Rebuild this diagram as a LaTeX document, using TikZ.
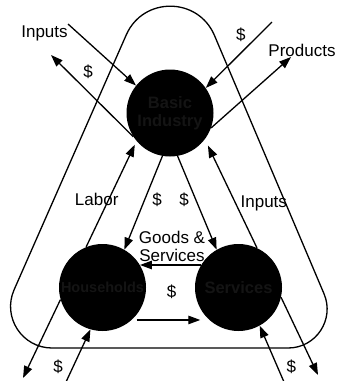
\documentclass[tikz,border=0pt]{standalone}
\usepackage{fontspec}
\setmainfont{Liberation Sans}
\usetikzlibrary{arrows.meta}
\begin{document}
\begin{tikzpicture}[x=1pt,y=-1pt,
  ln/.style={line width=1.3pt},
  arr/.style={ln,-{Triangle[length=12pt,width=8.5pt]}},
  ctr/.style={circle,fill=black,minimum size=87pt,inner sep=0pt,align=center,
    font=\bfseries\fontsize{16.5}{18}\selectfont,text={rgb,255:red,20;green,20;blue,20}},
  lbl/.style={inner sep=0pt,align=center,font=\fontsize{17}{18}\selectfont}]
\useasboundingbox (0,0) rectangle (339,381);
% rounded triangular boundary
\draw[ln] (126.27,34.84) .. controls (143.21,-3.67) and (198.04,-3.29) .. (214.46,35.44)
  -- (324.01,293.77) .. controls (334.92,319.49) and (316.04,348) .. (288.1,348)
  -- (52.08,348) .. controls (22.11,348) and (2.02,317.22) .. (14.09,289.79) -- cycle;
% sectors
\node[ctr] (bi) at (170,113) {Basic\\Industry};
\node[ctr] (hh) at (102.5,287.5) {\fontsize{14.5}{18}\selectfont Households};
\node[ctr] (sv) at (238.5,287.5) {Services};
% free ends
\coordinate (inA) at (68,24);
\coordinate (dA) at (51,55);
\coordinate (dB) at (272,22);
\coordinate (pB) at (291,57);
\coordinate (hlT) at (23,378);
\coordinate (srT) at (318,375);
\coordinate (hbS) at (66,382);
\coordinate (sbS) at (284,382);
% connectors
\draw[arr] (inA) -- (bi.141);
\draw[arr] (bi.213) -- (dA);
\draw[arr] (dB) -- (bi.35);
\draw[arr] (bi.-20) -- (pB);
\draw[arr,shorten >=4pt] (hh.112.5) -- (bi.220.3);
\draw[arr] (hh.196.1) -- (hlT);
\draw[arr,shorten >=7pt] (sv.65.1) -- (bi.-37.7);
\draw[arr] (sv.-13.7) -- (srT);
\draw[arr] (bi.260) -- (hh.60);
\draw[arr] (bi.280) -- (sv.120);
\draw[arr] (hbS) -- (hh.254);
\draw[arr] (sbS) -- (sv.-61);
\draw[arr] (sv.149) -- (hh.31);
\draw[arr,shorten <=5pt,shorten >=9pt] (hh.-48) -- (sv.228);
% labels
\node[lbl] (lInA) at (44.5,33.5) {Inputs};
\node[lbl] (lDA) at (88,71.7) {\$};
\node[lbl] (lDB) at (240.8,35) {\$};
\node[lbl] (lPr) at (302,50) {Products};
\node[lbl] (lLab) at (96.7,199.5) {Labor};
\node[lbl] (lD1) at (157.2,199.7) {\$};
\node[lbl] (lD2) at (184.2,199.7) {\$};
\node[lbl] (lInB) at (263.8,203) {Inputs};
\node[lbl] (lGS) at (172,246.5) {Goods \&\\Services};
\node[lbl] (lDM) at (171.7,291.7) {\$};
\node[lbl] (lDL) at (58,366.7) {\$};
\node[lbl] (lDR) at (291.3,366.7) {\$};
\end{tikzpicture}
\end{document}
